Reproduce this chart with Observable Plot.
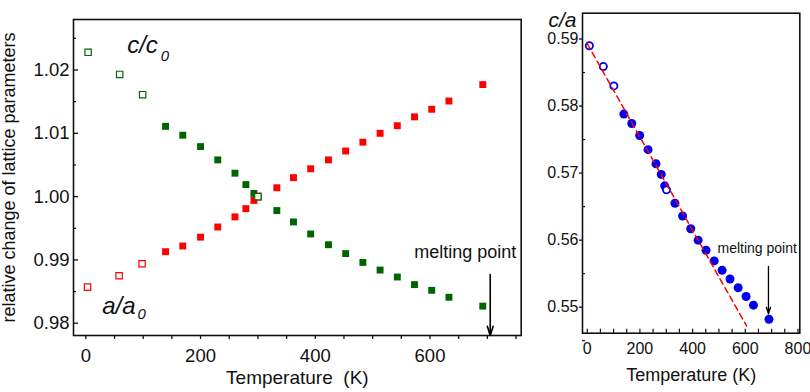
<!DOCTYPE html>
<html><head><meta charset="utf-8">
<script src="https://cdn.jsdelivr.net/npm/d3@7"></script>
<script src="https://cdn.jsdelivr.net/npm/@observablehq/plot@0.6"></script>
<style>
body{margin:0;background:#fff}
#wrap{position:relative;width:810px;height:392px;overflow:hidden;background:#fff}
#left{position:absolute;left:0;top:0}
#right{position:absolute;left:530px;top:0}
</style></head><body><div id="wrap"><div id="left"></div><div id="right"></div></div>
<script>
// ---- Left panel data: relative change of lattice parameters ----
const cT_open = [4, 59, 99, 300];
const c_open  = [1.0228, 1.0193, 1.0161, 1.0000];
const aT_open = [3, 58, 98, 300];
const a_open  = [0.9857, 0.9875, 0.9894, 1.0000];
const T_fill  = [139, 169, 200, 230, 260, 279, 293, 333, 362, 392, 423, 453, 483, 513, 543, 573, 603, 633, 692];
const c_fill  = [1.0111, 1.0097, 1.0079, 1.0058, 1.0037, 1.0019, 1.0005, 0.9978, 0.9960, 0.9941, 0.9924, 0.9910, 0.9896, 0.9884, 0.9873, 0.9861, 0.9852, 0.9841, 0.9827];
const a_fill  = [0.9913, 0.9922, 0.9936, 0.9952, 0.9968, 0.9981, 0.9994, 1.0014, 1.0030, 1.0044, 1.0058, 1.0072, 1.0086, 1.0100, 1.0112, 1.0126, 1.0138, 1.0151, 1.0177];
const leftXTicks = [0, 200, 400, 600];
const leftYTicks = [0.98, 0.99, 1.00, 1.01, 1.02];
const leftYMinor = [0.985, 0.995, 1.005, 1.015, 1.025];

// ---- Right panel data: c/a ----
const caT_open = [8, 61, 101, 301];
const ca_open  = [0.5890, 0.5859, 0.5830, 0.5675];
const caT_fill = [139, 169, 199, 231, 261, 281, 294, 333, 362, 393, 421, 451, 482, 512, 542, 573, 603, 631, 690];
const ca_fill  = [0.5788, 0.5774, 0.5756, 0.5735, 0.5714, 0.5698, 0.5681, 0.5655, 0.5636, 0.5617, 0.5600, 0.5585, 0.5569, 0.5555, 0.5542, 0.5529, 0.5516, 0.5503, 0.5482];
const fitT  = [0, 605];
const fitCA = [0.5893, 0.5472];
const rightXTicks = [0, 200, 400, 600, 800];
const rightYTicks = [0.55, 0.56, 0.57, 0.58, 0.59];
const rightYMinor = [0.545, 0.555, 0.565, 0.575, 0.585];

const F = 'Arial, "Liberation Sans", sans-serif';
const zip = (xs, ys) => xs.map((x, i) => ({x, y: ys[i]}));
const GREEN = "#006400", RED = "#ff0000", BLUE = "#0000ee";

// ---------------- LEFT ----------------
const LW = 530, LML = 73, LMR = 9.3, LMT = 19, LMB = 57;
const lfw = LW - LML - LMR;
const left = Plot.plot({
  width: LW, height: 392, marginLeft: LML, marginRight: LMR, marginTop: LMT, marginBottom: LMB,
  style: {fontFamily: F, background: "white", overflow: "visible", color: "#111"},
  x: {domain: [-21.5, 759]},
  y: {domain: [0.97806, 1.02798]},
  marks: [
    Plot.axisX(d3.range(0, 751, 50), {tickSize: 4, tickFormat: () => "", label: null, strokeWidth: 1.3}),
    Plot.axisX(leftXTicks, {tickSize: 0, tickPadding: 13, fontSize: 18.5, label: null}),
    Plot.tickY(leftYTicks, {y: d => d, insetRight: lfw - 5, strokeWidth: 1.3}),
    Plot.tickY(leftYMinor, {y: d => d, insetRight: lfw - 3, strokeWidth: 1.3}),
    Plot.axisY(leftYTicks, {tickSize: 0, tickPadding: 4, fontSize: 18.5, label: null, tickFormat: d3.format(".2f")}),
    Plot.frame({stroke: "#111", strokeWidth: 1.6}),
    Plot.dot(zip(T_fill, a_fill), {x: "x", y: "y", symbol: "square", r: 3.9, fill: RED}),
    Plot.dot(zip(T_fill, c_fill), {x: "x", y: "y", symbol: "square", r: 3.9, fill: GREEN}),
    Plot.dot(zip(aT_open, a_open), {x: "x", y: "y", symbol: "square", r: 3.6, fill: "white", stroke: RED, strokeWidth: 1.2}),
    Plot.dot(zip(cT_open, c_open), {x: "x", y: "y", symbol: "square", r: 3.6, fill: "white", stroke: GREEN, strokeWidth: 1.2}),
    Plot.arrow([{x: 705, y1: 0.98768, y2: 0.97806}], {x1: "x", x2: "x", y1: "y1", y2: "y2", stroke: "black", strokeWidth: 1.6, headLength: 9, headAngle: 35}),
    Plot.text(["melting point"], {x: 750.5, y: 0.99115, textAnchor: "end", fontSize: 18, fill: "#111"}),
    Plot.text(["c/c"], {x: 72, y: 1.02398, textAnchor: "start", fontSize: 24, fontStyle: "italic", fill: "#111"}),
    Plot.text(["0"], {x: 130.5, y: 1.0222, textAnchor: "start", fontSize: 15, fontStyle: "italic", fill: "#111"}),
    Plot.text(["a/a"], {x: 28.6, y: 0.98265, textAnchor: "start", fontSize: 24, fontStyle: "italic", fill: "#111"}),
    Plot.text(["0"], {x: 90, y: 0.9814, textAnchor: "start", fontSize: 15, fontStyle: "italic", fill: "#111"}),
    Plot.text(["relative change of lattice parameters"], {frameAnchor: "left", dx: -64, rotate: -90, textAnchor: "middle", fontSize: 18, fill: "#111"}),
    Plot.text(["Temperature\u00a0\u00a0(K)"], {frameAnchor: "bottom", dy: 48, fontSize: 19, fill: "#111"})
  ]
});
document.getElementById("left").append(left);

// ---------------- RIGHT ----------------
const RW = 280, RML = 52, RMR = 10.7, RMT = 12.7, RMB = 59.3;
const rfw = RW - RML - RMR, rfh = 392 - RMT - RMB;
const right = Plot.plot({
  width: RW, height: 392, marginLeft: RML, marginRight: RMR, marginTop: RMT, marginBottom: RMB,
  style: {fontFamily: F, background: "white", overflow: "visible", color: "#111"},
  x: {domain: [-18, 807]},
  y: {domain: [0.54612, 0.59385]},
  marks: [
    Plot.tickX(d3.range(0, 801, 50), {x: d => d, insetTop: rfh - 4, strokeWidth: 1.2}),
    Plot.axisX(rightXTicks, {tickSize: 0, tickPadding: 9, fontSize: 16, label: null}),
    Plot.axisY(rightYTicks, {tickSize: 3, tickPadding: 1, fontSize: 16, label: null, tickFormat: d3.format(".2f"), strokeWidth: 1.3}),
    Plot.tickY(rightYMinor, {y: d => d, insetRight: rfw - 3, strokeWidth: 1.2}),
    Plot.frame({stroke: "#111", strokeWidth: 1.6}),
    Plot.dot(zip(caT_fill, ca_fill), {x: "x", y: "y", r: 4.5, fill: BLUE}),
    Plot.dot(zip(caT_open, ca_open), {x: "x", y: "y", r: 3.6, fill: "white", stroke: BLUE, strokeWidth: 1.8}),
    Plot.line(zip(fitT, fitCA), {x: "x", y: "y", stroke: RED, strokeWidth: 1.5, strokeDasharray: "6,4"}),
    Plot.arrow([{x: 688, y1: 0.5561, y2: 0.5490}], {x1: "x", x2: "x", y1: "y1", y2: "y2", stroke: "black", strokeWidth: 1.3, headLength: 8, headAngle: 35}),
    Plot.text(["melting point"], {x: 796, y: 0.55876, textAnchor: "end", fontSize: 14, fill: "#111"}),
    Plot.text(["c/a"], {frameAnchor: "top-left", dx: -34, dy: -1.5, textAnchor: "start", fontSize: 21, fontStyle: "italic", fill: "#111"}),
    Plot.text(["Temperature (K)"], {frameAnchor: "bottom", dy: 48, fontSize: 18, fill: "#111"})
  ]
});
document.getElementById("right").append(right);
</script>
</body></html>
